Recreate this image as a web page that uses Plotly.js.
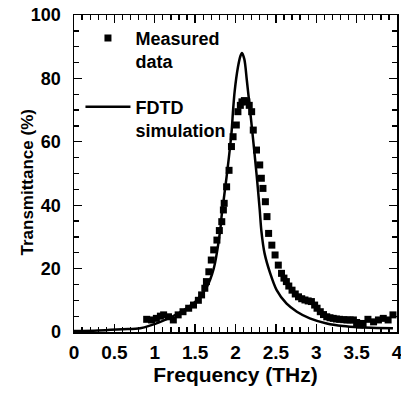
<!DOCTYPE html>
<html><head><meta charset="utf-8">
<script src="https://cdn.plot.ly/plotly-3.0.1.min.js"></script>
<style>html,body{margin:0;padding:0;background:#fff}#c{width:401px;height:393px}</style>
</head><body><div id="c"></div>
<script>
const measFreq = [0.90,0.96,1.02,1.07,1.11,1.17,1.23,1.29,1.35,1.42,1.48,1.54,1.58,1.62,1.64,1.67,1.70,1.73,1.77,1.80,1.83,1.85,1.86,1.89,1.92,1.95,1.97,2.01,2.03,2.06,2.08,2.11,2.14,2.17,2.20,2.22,2.26,2.30,2.32,2.34,2.37,2.39,2.41,2.45,2.49,2.53,2.57,2.60,2.63,2.66,2.70,2.74,2.78,2.82,2.86,2.90,2.94,2.98,3.01,3.05,3.09,3.13,3.17,3.21,3.25,3.29,3.34,3.38,3.42,3.46,3.50,3.54,3.58,3.64,3.71,3.77,3.83,3.89,3.95];
const measT = [4.0,3.8,4.3,5.0,5.4,4.8,3.8,5.4,6.4,7.5,8.5,10.0,11.7,13.8,15.9,19.0,22.7,25.9,29.0,32.0,34.8,38.5,40.6,45.8,51.0,58.5,61.6,65.3,69.5,71.5,72.6,73.0,72.6,71.5,69.5,63.7,57.4,52.7,48.5,45.3,41.1,36.4,31.1,27.4,24.3,21.1,18.5,17.0,15.9,14.5,13.2,12.0,11.1,10.5,10.1,9.8,9.6,8.5,7.5,6.4,5.5,4.8,4.5,4.3,4.1,4.0,3.9,3.8,3.8,3.8,3.0,2.2,2.7,4.0,3.2,3.8,4.3,3.8,5.4];
const simFreq = [0,0.3,0.6,0.82,1.07,1.3,1.5,1.64,1.73,1.81,1.83,1.89,1.95,1.97,1.99,2.03,2.06,2.08,2.11,2.14,2.18,2.21,2.26,2.30,2.32,2.36,2.43,2.51,2.63,2.76,2.92,3.13,3.33,3.54,3.75,3.95];
const simT = [0.3,0.5,0.9,1.2,3.2,6.0,9.5,14.0,20.0,32.0,37.0,49.0,62.7,70.0,76.0,83.5,87.0,88.0,86.0,79.5,70.0,62.7,50.0,38.5,32.0,24.8,18.5,13.2,9.0,6.4,4.3,2.7,1.9,1.5,1.3,1.2];
const xTicks = [0,0.5,1,1.5,2,2.5,3,3.5,4];
const xTickText = ['0','0.5','1','1.5','2','2.5','3','3.5','4'];
const yTicks = [0,20,40,60,80,100];
const yTitle = 'Transmittance (%)';
const xTitle = 'Frequency (THz)';

const F = 'Liberation Sans, Arial, sans-serif';
const traces = [
  {x: measFreq, y: measT, mode: 'markers', type: 'scatter', name: '<b>Measured<br>data</b>',
   legendgroup: 'a', marker: {symbol: 'square', size: 7, color: '#000'}},
  {x: simFreq, y: simT, mode: 'lines', type: 'scatter', name: '<b>FDTD<br>simulation</b>',
   legendgroup: 'b', line: {color: '#000', width: 2.5, shape: 'spline', smoothing: 0.8}}
];
const axBase = {showline: true, linecolor: '#000', linewidth: 1.5, mirror: 'allticks',
  ticks: 'inside', ticklen: 8, tickwidth: 1.3, tickcolor: '#000', showgrid: false, zeroline: false,
  ticklabeloverflow: 'allow'};
const layout = {
  width: 401, height: 393, margin: {l: 74, r: 4, t: 15, b: 61},
  paper_bgcolor: '#fff', plot_bgcolor: '#fff', showlegend: true,
  legend: {x: 0.02, y: 0.985, xanchor: 'left', yanchor: 'top', bgcolor: 'rgba(0,0,0,0)',
    font: {family: F, size: 18, color: '#000'}, valign: 'top', tracegroupgap: 19, itemwidth: 45},
  xaxis: Object.assign({}, axBase, {range: [0, 4.0], tickvals: xTicks, ticktext: xTickText,
    tickfont: {family: F, size: 19, color: '#000', weight: 'bold'}, ticklabelstandoff: 3,
    minor: {dtick: 0.1, ticklen: 5, ticks: 'inside', tickcolor: '#000'},
    title: {text: '<b>' + xTitle + '</b>', font: {family: F, size: 21, color: '#000'}, standoff: 3}}),
  yaxis: Object.assign({}, axBase, {range: [0, 100], tickvals: yTicks,
    tickfont: {family: F, size: 18, color: '#000', weight: 'bold'}, ticklabelstandoff: 8,
    minor: {dtick: 5, ticklen: 5, ticks: 'inside', tickcolor: '#000'}}),
  annotations: [{text: '<b>' + yTitle + '</b>', xref: 'paper', yref: 'paper', x: 0, y: 0.5,
    xanchor: 'center', yanchor: 'middle', xshift: -47, yshift: -9, textangle: -90, showarrow: false,
    font: {family: F, size: 17, color: '#000'}}]
};
Plotly.newPlot('c', traces, layout, {displayModeBar: false, staticPlot: true});
</script></body></html>
